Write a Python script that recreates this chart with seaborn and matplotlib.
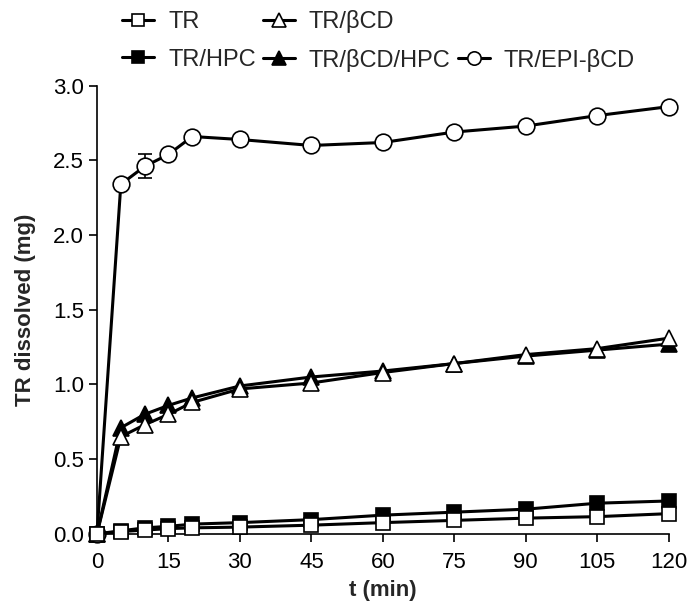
import matplotlib
matplotlib.use("Agg")
import matplotlib.pyplot as plt
from matplotlib.lines import Line2D
import seaborn as sns

# time points (min)
time = [0, 5, 10, 15, 20, 30, 45, 60, 75, 90, 105, 120]

tr = [0.0, 0.015, 0.025, 0.035, 0.04, 0.045, 0.058, 0.075, 0.09, 0.105, 0.115, 0.135]
tr_hpc = [0.0, 0.02, 0.04, 0.05, 0.065, 0.075, 0.095, 0.125, 0.145, 0.165, 0.205, 0.22]
tr_bcd = [0.0, 0.65, 0.73, 0.80, 0.88, 0.97, 1.01, 1.08, 1.14, 1.20, 1.24, 1.31]
tr_bcd_hpc = [0.0, 0.71, 0.80, 0.86, 0.91, 0.99, 1.05, 1.09, 1.14, 1.19, 1.23, 1.27]
tr_epi = [0.0, 2.34, 2.46, 2.54, 2.66, 2.64, 2.60, 2.62, 2.69, 2.73, 2.80, 2.86]
tr_epi_err = [0.0, 0.02, 0.08, 0.02, 0.01, 0.01, 0.01, 0.01, 0.01, 0.01, 0.01, 0.01]

sns.set_style("ticks")
plt.rcParams['font.family'] = ['Liberation Sans', 'DejaVu Sans']

fig = plt.figure(figsize=(6.88, 6.08), dpi=100)
ax = fig.add_axes([0.141, 0.122, 0.831, 0.737])

lw = 2.2
# drawing order: filled markers under open ones
series = [
    (tr_hpc, 's', 'black', 10, 'TR/HPC'),
    (tr_bcd_hpc, '^', 'black', 12, 'TR/βCD/HPC'),
    (tr_bcd, '^', 'white', 12, 'TR/βCD'),
    (tr_epi, 'o', 'white', 12, 'TR/EPI-βCD'),
    (tr, 's', 'white', 10, 'TR'),
]
handles = {}
for i, (vals, mk, fc, ms, name) in enumerate(series):
    sns.lineplot(x=time, y=vals, ax=ax, color='black', linewidth=lw,
                 marker=mk, markersize=ms, markerfacecolor=fc,
                 markeredgecolor='black', markeredgewidth=1.2,
                 clip_on=False, zorder=3 + i)
    handles[name] = Line2D([], [], color='black', linewidth=lw, marker=mk,
                           markersize=ms * 0.8, markerfacecolor=fc,
                           markeredgecolor='black', markeredgewidth=1.2)

ax.errorbar(time, tr_epi, yerr=tr_epi_err, fmt='none', ecolor='black',
            elinewidth=1.2, capsize=5, capthick=1.2, zorder=2, clip_on=False)

ax.set_xlim(0, 120)
ax.set_ylim(0, 3.0)
ax.set_xticks([0, 15, 30, 45, 60, 75, 90, 105, 120])
ax.set_yticks([0.0, 0.5, 1.0, 1.5, 2.0, 2.5, 3.0])
ax.set_yticklabels(['0.0', '0.5', '1.0', '1.5', '2.0', '2.5', '3.0'])
ax.tick_params(direction='out', length=6, width=1.2, labelsize=16, colors='black')
ax.tick_params(axis='x', pad=7)
for s in ['left', 'bottom']:
    ax.spines[s].set_linewidth(1.2)
    ax.spines[s].set_color('black')
sns.despine(ax=ax)

ax.set_xlabel('t (min)', fontsize=16, fontweight='bold', labelpad=5)
ax.set_ylabel('TR dissolved (mg)', fontsize=16, fontweight='bold', labelpad=12)

blank = Line2D([], [], linestyle='none')
order = ['TR', 'TR/HPC', 'TR/βCD', 'TR/βCD/HPC', None, 'TR/EPI-βCD']
leg_handles = [handles[k] if k else blank for k in order]
leg_labels = [k if k else '' for k in order]
fig.legend(leg_handles, leg_labels, ncol=3, loc='upper left',
           bbox_to_anchor=(122 / 688, 0.983), frameon=False, fontsize=17,
           borderpad=0, borderaxespad=0,
           handlelength=1.35, handletextpad=0.6, columnspacing=0.3,
           labelspacing=0.65)

fig.savefig('out.png', dpi=100)
